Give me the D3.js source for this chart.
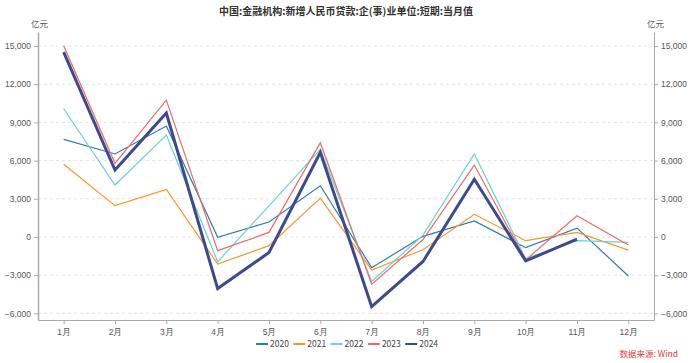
<!DOCTYPE html>
<html>
<head>
<meta charset="utf-8">
<script src="https://cdn.jsdelivr.net/npm/d3@7"></script>
<style>
  body { margin: 0; background: #fff; }
  svg { font-family: "Noto Sans CJK SC", "Noto Sans", sans-serif; }
  .grid line { stroke: #e3e3e3; stroke-dasharray: 3,3; }
  .axis text { fill: #555; font-size: 8.5px; }
  .axis path, .axis line { stroke: #aaa; }
</style>
</head>
<body>
<svg id="chart" width="693" height="363"></svg>
<script>
const months = ['1月', '2月', '3月', '4月', '5月', '6月', '7月', '8月', '9月', '10月', '11月', '12月'];
const yTicks = [-6000, -3000, 0, 3000, 6000, 9000, 12000, 15000];

const years = ['2020', '2021', '2022', '2023', '2024'];
const colors = ['#2f7bb0', '#f7952f', '#6fcfcf', '#ec6b6e', '#3d4b8c'];

const s2020 = [7670, 6520, 8710, -30, 1180, 4020, -2410, 50, 1260, -840, 700, -3060];
const s2021 = [5710, 2460, 3740, -2130, -680, 3050, -2590, -1000, 1780, -290, 360, -1030];
const s2022 = [10070, 4080, 8010, -1950, 2450, 6880, -3500, 150, 6520, -1700, -290, -420];
const s2023 = [15020, 5790, 10750, -1070, 360, 7400, -3710, -200, 5650, -1800, 1670, -630];
const s2024 = [14520, 5260, 9730, -4050, -1220, 6650, -5470, -1920, 4530, -1880, -160];

const series = [s2020, s2021, s2022, s2023, s2024];

const svg = d3.select('#chart');
const DIM = { left: 38, right: 654, top: 32, bottom: 320 };

const xScale = d3.scalePoint()
  .domain(months)
  .range([DIM.left, DIM.right])
  .padding(0.5);

const yScale = d3.scaleLinear()
  .domain([-6520, 16100])
  .range([DIM.bottom, DIM.top]);

// grid
svg.append('g').attr('class', 'grid')
  .selectAll('line')
  .data(yTicks)
  .join('line')
  .attr('x1', DIM.left)
  .attr('x2', DIM.right)
  .attr('y1', d => yScale(d))
  .attr('y2', d => yScale(d));

// axes
svg.append('g').attr('class', 'axis')
  .attr('transform', `translate(0,${DIM.bottom})`)
  .call(d3.axisBottom(xScale).tickSize(4).tickSizeOuter(0))
  .call(g => g.selectAll('text').attr('dy', '0.9em'));

svg.append('g').attr('class', 'axis')
  .attr('transform', `translate(${DIM.left},0)`)
  .call(d3.axisLeft(yScale).tickValues(yTicks).tickSize(4).tickSizeOuter(0).tickFormat(d3.format(',')))
  .call(g => g.select('.domain').attr('stroke-width', 1.5));

svg.append('g').attr('class', 'axis')
  .attr('transform', `translate(${DIM.right},0)`)
  .call(d3.axisRight(yScale).tickValues(yTicks).tickSize(4).tickSizeOuter(0).tickFormat(d3.format(',')));

// unit labels
svg.append('text').text('亿元').attr('x', 31).attr('y', 27)
  .attr('font-size', 8.5).attr('fill', '#555');
svg.append('text').text('亿元').attr('x', 647).attr('y', 27)
  .attr('font-size', 8.5).attr('fill', '#555');

// title
svg.append('text')
  .text('中国:金融机构:新增人民币贷款:企(事)业单位:短期:当月值')
  .attr('x', 346).attr('y', 15)
  .attr('text-anchor', 'middle')
  .attr('font-size', 10)
  .attr('font-weight', 'bold')
  .attr('fill', '#333');

// lines
const lineGen = d3.line()
  .x((d, i) => xScale(months[i]))
  .y(d => yScale(d));

series.forEach((vals, i) => {
  svg.append('path')
    .datum(vals)
    .attr('fill', 'none')
    .attr('stroke', colors[i])
    .attr('stroke-width', years[i] === '2024' ? 3 : 1.2)
    .attr('stroke-linejoin', 'miter')
    .attr('d', lineGen);
});

// legend
const legend = svg.append('g').attr('transform', 'translate(256,344)');
years.forEach((y, i) => {
  const g = legend.append('g').attr('transform', `translate(${i * 37.3},0)`);
  g.append('line').attr('x1', 0).attr('x2', 12).attr('y1', 0).attr('y2', 0)
    .attr('stroke', colors[i]).attr('stroke-width', 2);
  g.append('text').text(y).attr('x', 14).attr('y', 3)
    .attr('font-size', 8.5).attr('fill', '#444');
});

// source
svg.append('text').text('数据来源: Wind')
  .attr('x', 678).attr('y', 357)
  .attr('text-anchor', 'end')
  .attr('font-size', 8.5)
  .attr('fill', '#e8383d');
</script>
</body>
</html>
